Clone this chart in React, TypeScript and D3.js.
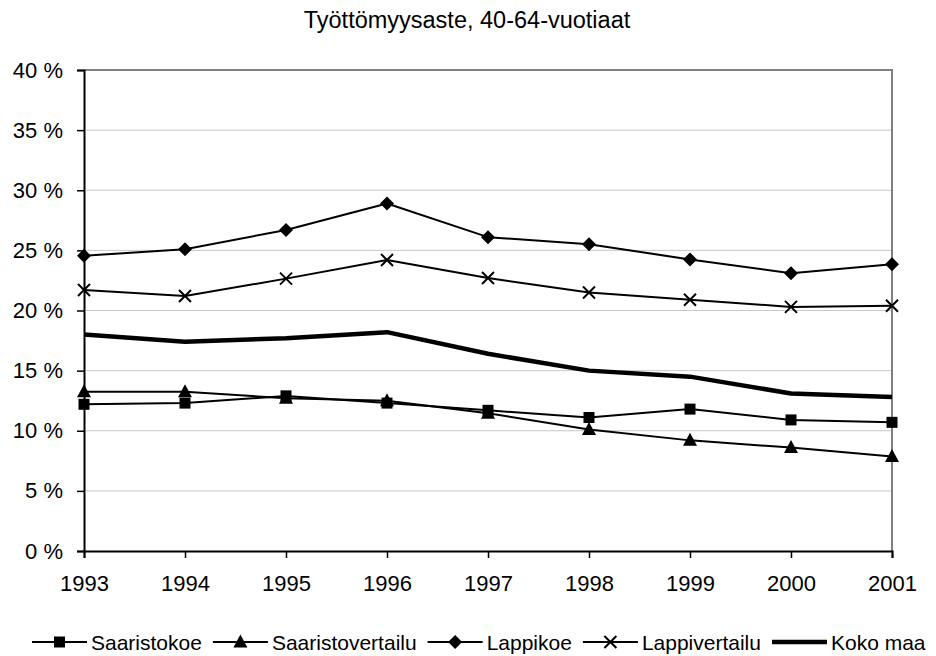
import React, { useEffect, useRef } from 'react';
import * as d3 from 'd3';

// Unemployment rate, 40-64 year olds (values in %)
const years = ['1993', '1994', '1995', '1996', '1997', '1998', '1999', '2000', '2001'];
const saaristokoe = [12.2, 12.3, 12.9, 12.3, 11.7, 11.1, 11.8, 10.9, 10.7];
const saaristovertailu = [13.25, 13.25, 12.7, 12.5, 11.45, 10.1, 9.2, 8.6, 7.85];
const lappikoe = [24.55, 25.1, 26.7, 28.9, 26.1, 25.5, 24.25, 23.1, 23.85];
const lappivertailu = [21.7, 21.2, 22.65, 24.2, 22.7, 21.5, 20.9, 20.3, 20.4];
const kokoMaa = [18.0, 17.4, 17.7, 18.2, 16.4, 15.0, 14.5, 13.1, 12.8];
const yTicks = [0, 5, 10, 15, 20, 25, 30, 35, 40];

type Series = { name: string; values: number[]; marker: string; width: number };

const series: Series[] = [
  { name: 'Saaristokoe', values: saaristokoe, marker: 'square', width: 2 },
  { name: 'Saaristovertailu', values: saaristovertailu, marker: 'triangle', width: 2 },
  { name: 'Lappikoe', values: lappikoe, marker: 'diamond', width: 2 },
  { name: 'Lappivertailu', values: lappivertailu, marker: 'cross', width: 2 },
  { name: 'Koko maa', values: kokoMaa, marker: 'none', width: 4.5 },
];

const W = 936;
const H = 656;
const margin = { left: 84, right: 44, top: 70, bottom: 105 };
const FONT = '"Liberation Sans", Arial, sans-serif';

function drawMarker(g: d3.Selection<SVGGElement, unknown, null, undefined>, type: string, x: number, y: number) {
  if (type === 'square') {
    g.append('rect').attr('x', x - 5.5).attr('y', y - 5.5).attr('width', 11).attr('height', 11).attr('fill', '#000');
  } else if (type === 'triangle') {
    g.append('path')
      .attr('d', `M${x},${y - 7.5}L${x + 7},${y + 5.5}L${x - 7},${y + 5.5}Z`)
      .attr('fill', '#000');
  } else if (type === 'diamond') {
    g.append('path')
      .attr('d', `M${x},${y - 7}L${x + 7},${y}L${x},${y + 7}L${x - 7},${y}Z`)
      .attr('fill', '#000');
  } else if (type === 'cross') {
    g.append('path')
      .attr('d', `M${x - 6},${y - 6}L${x + 6},${y + 6}M${x + 6},${y - 6}L${x - 6},${y + 6}`)
      .attr('stroke', '#000')
      .attr('stroke-width', 2);
  }
}

export default function App() {
  const ref = useRef<SVGSVGElement>(null);

  useEffect(() => {
    const svg = d3.select(ref.current);
    svg.selectAll('*').remove();

    const x = d3
      .scalePoint<string>()
      .domain(years)
      .range([margin.left, W - margin.right]);
    const y = d3
      .scaleLinear()
      .domain([0, 40])
      .range([H - margin.bottom, margin.top]);

    const x0 = margin.left;
    const x1 = W - margin.right;
    const y0 = H - margin.bottom;
    const y1 = margin.top;

    // Title
    svg
      .append('text')
      .attr('x', 467)
      .attr('y', 28)
      .attr('text-anchor', 'middle')
      .attr('font-size', 23.5)
      .attr('fill', '#000')
      .text('Työttömyysaste, 40-64-vuotiaat');

    // Gridlines
    svg
      .append('g')
      .selectAll('line')
      .data(yTicks.filter((t) => t > 0 && t < 40))
      .join('line')
      .attr('x1', x0)
      .attr('x2', x1)
      .attr('y1', (d) => y(d))
      .attr('y2', (d) => y(d))
      .attr('stroke', '#c8c8c8')
      .attr('stroke-width', 1);

    // Plot border (top & right gray)
    svg
      .append('path')
      .attr('d', `M${x0},${y1}H${x1}V${y0}`)
      .attr('fill', 'none')
      .attr('stroke', '#808080')
      .attr('stroke-width', 2);

    // Y axis
    const yAxis = svg
      .append('g')
      .attr('transform', `translate(${x0},0)`)
      .call(
        d3
          .axisLeft(y)
          .tickValues(yTicks)
          .tickSize(7)
          .tickPadding(14)
          .tickFormat((d) => `${d} %`)
      );
    yAxis.select('.domain').attr('stroke', '#000').attr('stroke-width', 2);
    yAxis.selectAll('.tick line').attr('stroke', '#000').attr('stroke-width', 1.5);
    yAxis.selectAll('.tick text').attr('font-size', 22).attr('font-family', FONT).attr('fill', '#000');

    // X axis
    const xAxis = svg
      .append('g')
      .attr('transform', `translate(0,${y0})`)
      .call(d3.axisBottom(x).tickSize(7).tickPadding(17));
    xAxis.select('.domain').attr('stroke', '#000').attr('stroke-width', 2);
    xAxis.selectAll('.tick line').attr('stroke', '#000').attr('stroke-width', 1.5);
    xAxis.selectAll('.tick text').attr('font-size', 22).attr('font-family', FONT).attr('fill', '#000');

    // Series
    const line = d3
      .line<number>()
      .x((_, i) => x(years[i]) as number)
      .y((d) => y(d));

    const plot = svg.append('g');
    series.forEach((s) => {
      plot
        .append('path')
        .datum(s.values)
        .attr('d', line)
        .attr('fill', 'none')
        .attr('stroke', '#000')
        .attr('stroke-width', s.width)
        .attr('stroke-linejoin', 'round');
      const mg = plot.append('g');
      s.values.forEach((v, i) => drawMarker(mg, s.marker, x(years[i]) as number, y(v)));
    });

    // Legend
    const legend = svg.append('g').attr('transform', 'translate(32,642)');
    let cx = 0;
    series.forEach((s) => {
      const item = legend.append('g').attr('transform', `translate(${cx},0)`);
      item
        .append('line')
        .attr('x1', 0)
        .attr('x2', 55)
        .attr('y1', 0)
        .attr('y2', 0)
        .attr('stroke', '#000')
        .attr('stroke-width', s.width);
      drawMarker(item as any, s.marker, 27.5, 0);
      const t = item
        .append('text')
        .attr('x', 59)
        .attr('y', 7.5)
        .attr('font-size', 21)
        .attr('fill', '#000')
        .text(s.name);
      const tw = (t.node() as SVGTextElement).getComputedTextLength();
      cx += 59 + tw + 11;
    });
  }, []);

  return (
    <svg
      ref={ref}
      width={W}
      height={H}
      style={{ position: 'absolute', left: 0, top: 0, background: '#fff', fontFamily: FONT }}
    />
  );
}
